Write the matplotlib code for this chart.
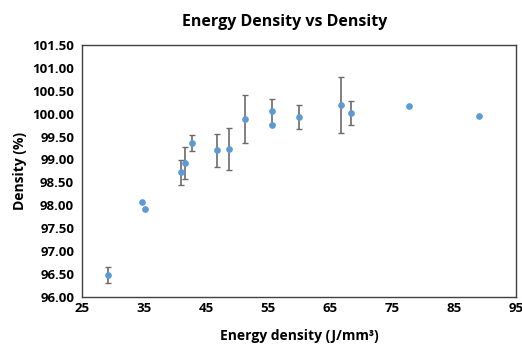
import matplotlib

matplotlib.use("Agg")
import matplotlib.pyplot as plt
import numpy as np

# Energy density (J/mm3) vs relative density (%)
energy = [29.1, 34.65, 35.05, 40.9, 41.6, 42.7, 46.75, 48.6, 51.3, 55.6, 55.6,
          59.9, 66.7, 68.4, 77.8, 89.0]
density = [96.47, 98.06, 97.91, 98.72, 98.92, 99.36, 99.20, 99.22, 99.88,
           100.05, 99.76, 99.93, 100.19, 100.01, 100.16, 99.94]
err = [0.17, np.nan, np.nan, 0.27, 0.35, 0.18, 0.36, 0.46, 0.53, 0.27, np.nan,
       0.27, 0.62, 0.26, np.nan, np.nan]

plt.rcParams["font.family"] = ["Open Sans", "DejaVu Sans"]

fig = plt.figure(figsize=(5.22, 3.44), dpi=100)
ax = fig.add_axes([0.158, 0.1375, 0.8305, 0.7315])

ax.errorbar(energy, density, yerr=err, fmt="o", color="#5B9BD5", ms=3.8,
            ecolor="#6b6b6b", elinewidth=1.2, capsize=2, capthick=1, zorder=3)

ax.set_xlim(25, 95)
ax.set_ylim(96, 101.5)
ax.set_xticks(np.arange(25, 96, 10))
ax.set_yticks(np.arange(96, 101.51, 0.5))
ax.set_yticklabels([f"{v:.2f}" for v in np.arange(96, 101.51, 0.5)])
ax.tick_params(length=0, labelsize=9.5)
ax.tick_params(axis="x", pad=4)
ax.tick_params(axis="y", pad=6)
for lab in ax.get_xticklabels() + ax.get_yticklabels():
    lab.set_fontweight("bold")
for s in ax.spines.values():
    s.set_color("#404040")
    s.set_linewidth(1)

ax.set_xlabel("Energy density (J/mm³)", fontsize=10, fontweight="bold", labelpad=10)
ax.set_ylabel("Density (%)", fontsize=10, fontweight="bold", labelpad=4)
fig.text(0.545, 0.935, "Energy Density vs Density", ha="center", va="center",
         fontsize=11.5, fontweight="bold")

fig.savefig("out.png", dpi=100)
